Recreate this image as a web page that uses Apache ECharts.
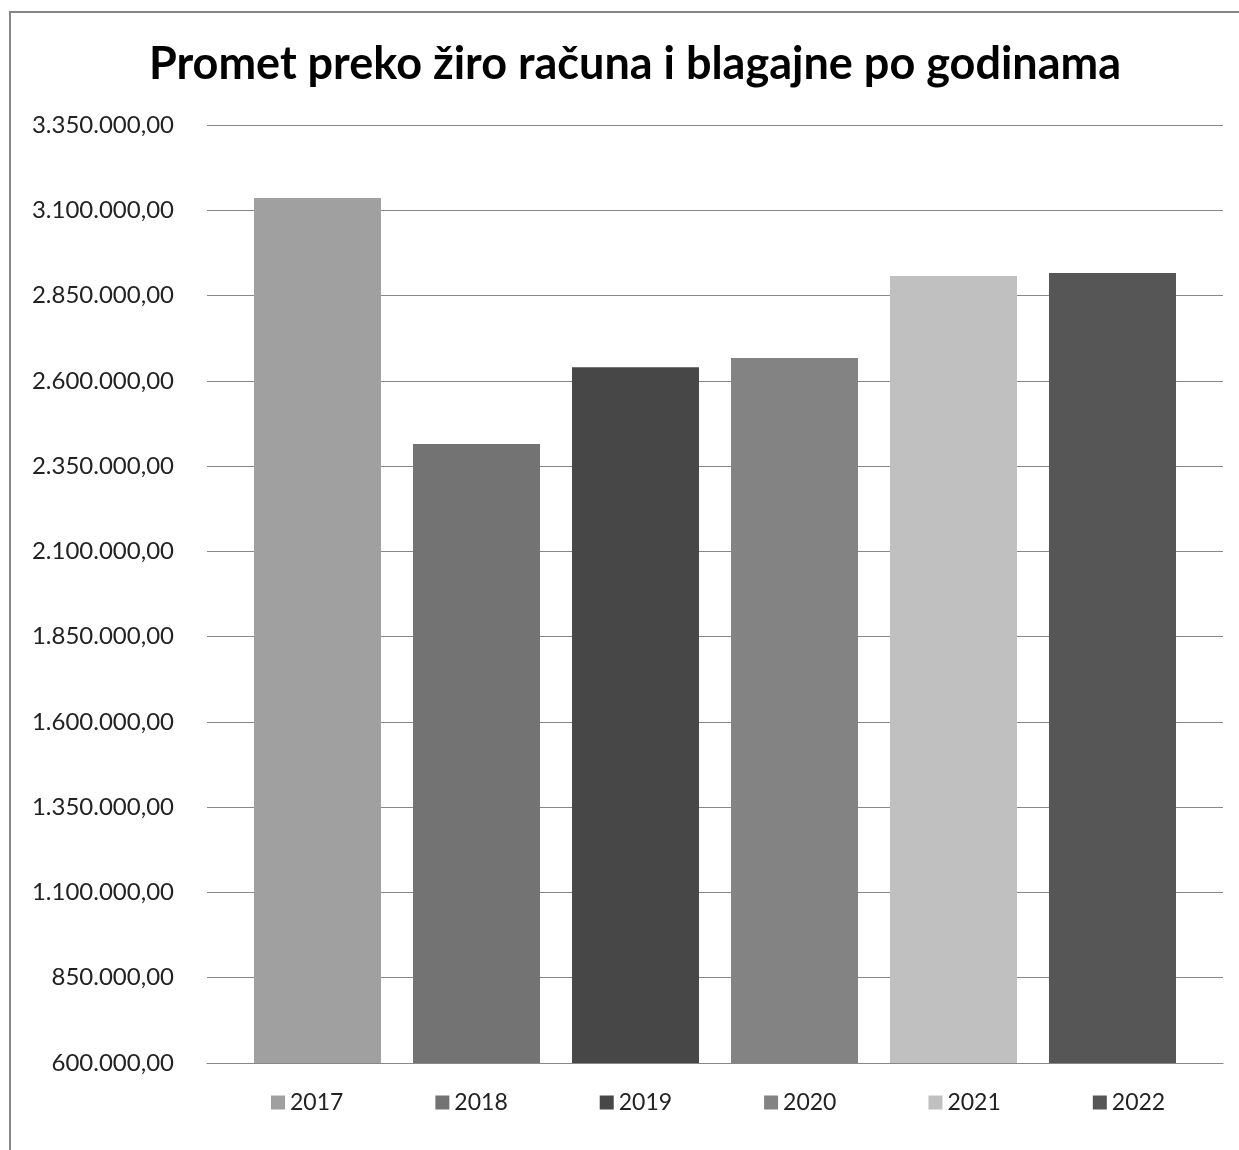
<!DOCTYPE html>
<html>
<head>
<meta charset="utf-8">
<script src="https://cdn.jsdelivr.net/npm/echarts@6/dist/echarts.min.js"></script>
<style>
  html, body { margin: 0; padding: 0; background: #fff; }
  #chart { width: 1239px; height: 1150px; }
</style>
</head>
<body>
<div id="chart"></div>
<script>
var years = ["2017", "2018", "2019", "2020", "2021", "2022"];
var amounts = [3136000, 2415000, 2640000, 2667000, 2907000, 2916000];
var barColors = ["#a0a0a0", "#737373", "#474747", "#838383", "#c0c0c0", "#565656"];
var yTicks = [600000, 850000, 1100000, 1350000, 1600000, 1850000, 2100000, 2350000, 2600000, 2850000, 3100000, 3350000];

function fmt(v) {
    var s = Math.round(v).toString().replace(/\B(?=(\d{3})+(?!\d))/g, ".");
    return s + ",00";
}

var h = echarts.init(document.getElementById("chart"));

var series = [];
for (var i = 0; i < years.length; i++) {
    series.push({
        name: years[i],
        type: "bar",
        data: [amounts[i]],
        barWidth: 127,
        barGap: "25.2%",
        itemStyle: { color: barColors[i] }
    });
}

var option = {
    animation: false,
    backgroundColor: "#fff",
    textStyle: { fontFamily: "Lato" },
    title: {
        text: "Promet preko žiro računa i blagajne po godinama",
        left: 630,
        top: 37,
        textAlign: "center",
        textStyle: { fontFamily: "Lato", fontWeight: "bold", fontSize: 45, color: "#000" }
    },
    graphic: [{
        type: "rect",
        shape: { x: 10, y: 12, width: 1400, height: 1300 },
        style: { fill: "none", stroke: "#878787", lineWidth: 2 },
        silent: true
    }],
    legend: {
        left: 266,
        top: 1086,
        itemWidth: 14,
        itemHeight: 14,
        itemGap: 92,
        icon: "rect",
        textStyle: { fontFamily: "Lato", fontSize: 23, color: "#222" },
        data: years
    },
    grid: { left: 207, right: 16, top: 125, bottom: 87 },
    xAxis: {
        type: "category",
        data: [""],
        axisLine: { lineStyle: { color: "#888", width: 1 } },
        axisTick: { show: false },
        axisLabel: { show: false }
    },
    yAxis: {
        type: "value",
        min: 600000,
        max: 3350000,
        axisLine: { show: false },
        axisTick: { show: false, customValues: yTicks },
        axisLabel: {
            customValues: yTicks,
            margin: 33,
            fontFamily: "Lato",
            fontSize: 24,
            color: "#222",
            formatter: fmt
        },
        splitLine: { lineStyle: { color: "#888", width: 1 } }
    },
    series: series
};

h.setOption(option);
window.addEventListener("resize", function () {
    h.resize();
});
</script>
</body>
</html>
